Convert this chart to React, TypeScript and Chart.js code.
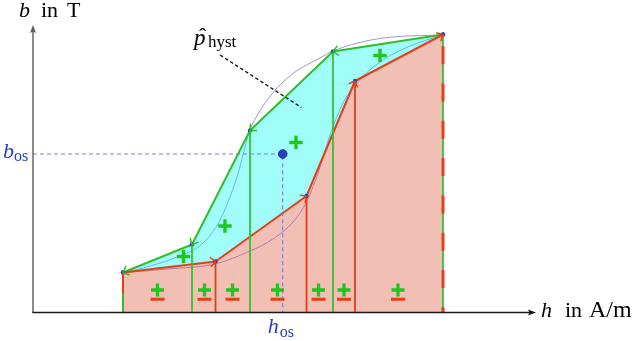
import React, { useEffect, useRef } from 'react';
import { Chart, registerables } from 'chart.js';

Chart.register(...registerables);

// ---------------- data ----------------
// piecewise-linear hysteresis approximation (upper / descending branch, lower / ascending branch)
const upperH = [18, 31.8, 43.4, 60, 82];
const upperB = [8, 13.6, 36.4, 52.2, 55.6];
const lowerH = [18, 36.5, 54.7, 64.4, 82];
const lowerB = [8, 10.2, 23.3, 46.3, 55.6];
// smooth reference hysteresis curves
const upperCurveH = [17.94, 22, 28.8, 34, 37.4, 40.8, 43.4, 45, 47, 49.4, 52.4, 57.4, 60, 70, 82];
const upperCurveB = [7.96, 8.9, 11.1, 13.9, 18.5, 27.1, 36.5, 39.7, 42.7, 45.5, 48.1, 50.9, 52.3, 54.9, 55.5];
const lowerCurveH = [17.94, 26.8, 36.4, 43.4, 48, 52, 54.6, 57, 59.4, 62, 64.6, 69.4, 75.4, 82];
const lowerCurveB = [7.96, 8.7, 9.7, 12.3, 14.7, 18.1, 21.9, 27.9, 35.5, 41.9, 45.7, 50.1, 53.3, 55.5];
// operating point (h_os, b_os)
const osH = [49.94];
const osB = [31.7];
// "+" markers inside the hysteresis area
const plusH = [30.1, 38.4, 52.6, 69.4];
const plusB = [11.2, 17.3, 34.0, 51.4];
// "±" markers below the ascending branch
const pmH = [24.9, 34.3, 39.9, 48.9, 57.1, 62.2, 73];
const pmPlusB = [4.5];
const pmMinusB = [2.64];
// colour split of the first vertical
const startSplitB = [3.7];
// leader line of the p_hyst label
const leaderH = [37.4, 53.7];
const leaderB = [51.5, 41.0];
// axis extents
const axisEndH = [100.6];
const axisEndB = [57.5];

// ---------------- styles ----------------
const GREEN = '#2fbf2a';
const PLUSGREEN = '#22c422';
const RED = '#e2401a';
const BLUE = '#2b3fc4';
const CURVE = 'rgb(140,140,215)';
const GUIDE = 'rgba(105,115,225,0.9)';
const CYAN = 'rgba(0,250,240,0.37)';
const SALMON = 'rgba(220,90,60,0.39)';
const FONT = '"Liberation Serif", "DejaVu Serif", serif';

const pts = (hs: number[], bs: number[]) => hs.map((h, i) => ({ x: h, y: bs[i] }));
const seg = (data: any[], color: string, width: number, extra: any = {}) => ({
  data,
  borderColor: color,
  borderWidth: width,
  pointRadius: 0,
  fill: false,
  borderCapStyle: 'butt',
  ...extra,
});

function buildDatasets() {
  const ds: any[] = [];
  ds.push({
    data: pts(osH, osB), showLine: false, pointRadius: 4.3,
    pointBackgroundColor: BLUE, pointBorderColor: '#1f2d9e', pointBorderWidth: 1,
  });
  ds.push({
    data: pts(plusH, plusB), showLine: false, pointStyle: 'cross', pointRadius: 6.7,
    pointBorderWidth: 3.4, pointBorderColor: PLUSGREEN,
  });
  ds.push({
    data: pmH.map((h) => ({ x: h, y: pmPlusB[0] })), showLine: false, pointStyle: 'cross',
    pointRadius: 6.5, pointBorderWidth: 3.3, pointBorderColor: PLUSGREEN,
  });
  ds.push({
    data: pmH.map((h) => ({ x: h, y: pmMinusB[0] })), showLine: false, pointStyle: 'line',
    pointRadius: 7, pointBorderWidth: 3, pointBorderColor: RED,
  });
  const n = upperH.length - 1;
  // last vertical: dashed red over green
  ds.push(seg([{ x: upperH[n], y: upperB[n] }, { x: upperH[n], y: 0 }], RED, 3, {
    borderDash: [18, 19.3], borderDashOffset: 25.6,
  }));
  ds.push(seg([{ x: upperH[n], y: upperB[n] }, { x: upperH[n], y: 0 }], GREEN, 1.7));
  // first vertical: red then green
  ds.push(seg([{ x: upperH[0], y: upperB[0] }, { x: upperH[0], y: startSplitB[0] }], RED, 2));
  ds.push(seg([{ x: upperH[0], y: startSplitB[0] }, { x: upperH[0], y: 0 }], GREEN, 2));
  for (let i = 1; i < n; i++) {
    ds.push(seg([{ x: upperH[i], y: upperB[i] }, { x: upperH[i], y: 0 }], GREEN, 1.7));
  }
  for (let i = 1; i < lowerH.length - 1; i++) {
    ds.push(seg([{ x: lowerH[i], y: lowerB[i] }, { x: lowerH[i], y: 0 }], RED, 1.8));
  }
  ds.push(seg(pts(leaderH, leaderB), '#111', 1.3, { borderDash: [3.5, 2.5] }));
  ds.push(seg([{ x: 0, y: osB[0] }, { x: osH[0], y: osB[0] }, { x: osH[0], y: 0 }], GUIDE, 1.1, {
    borderDash: [4, 3],
  }));
  const redIdx = ds.length;
  ds.push({
    data: pts(lowerH, lowerB), borderColor: RED, borderWidth: 2, borderJoinStyle: 'round',
    fill: 'origin', backgroundColor: SALMON,
    pointRadius: 2.2, pointBackgroundColor: BLUE, pointBorderWidth: 0,
  });
  ds.push({
    data: pts(upperH, upperB), borderColor: GREEN, borderWidth: 2, borderJoinStyle: 'round',
    fill: redIdx, backgroundColor: CYAN,
    pointRadius: 2.2, pointBackgroundColor: BLUE, pointBorderWidth: 0,
  });
  ds.push(seg(pts(upperCurveH, upperCurveB), CURVE, 0.9, { cubicInterpolationMode: 'monotone' }));
  ds.push(seg(pts(lowerCurveH, lowerCurveB), CURVE, 0.9, { cubicInterpolationMode: 'monotone' }));
  return ds;
}

const decor = {
  id: 'decor',
  afterDatasetsDraw(chart: any) {
    const { ctx, scales } = chart;
    const X = (v: number) => scales.x.getPixelForValue(v);
    const Y = (v: number) => scales.y.getPixelForValue(v);
    ctx.save();
    const barbs = (h0: number, b0: number, h1: number, b1: number, color: string) => {
      const x1 = X(h1), y1 = Y(b1);
      const ang = Math.atan2(Y(b0) - y1, X(h0) - x1);
      ctx.strokeStyle = color;
      ctx.lineWidth = 1.5;
      ctx.beginPath();
      for (const s of [-1, 1]) {
        const a = ang + s * 0.75;
        ctx.moveTo(x1, y1);
        ctx.lineTo(x1 + 7 * Math.cos(a), y1 + 7 * Math.sin(a));
      }
      ctx.stroke();
    };
    for (let i = upperH.length - 1; i > 0; i--) barbs(upperH[i], upperB[i], upperH[i - 1], upperB[i - 1], GREEN);
    for (let i = 0; i < lowerH.length - 1; i++) barbs(lowerH[i], lowerB[i], lowerH[i + 1], lowerB[i + 1], RED);

    // axes
    const x0 = X(0), y0 = Y(0);
    const xe = X(axisEndH[0]), ye = Y(axisEndB[0]);
    ctx.lineWidth = 1.4;
    ctx.strokeStyle = '#5a5a5a';
    ctx.beginPath(); ctx.moveTo(x0, y0); ctx.lineTo(x0, ye + 4); ctx.stroke();
    ctx.fillStyle = '#5a5a5a';
    ctx.beginPath(); ctx.moveTo(x0, ye); ctx.lineTo(x0 - 3, ye + 8); ctx.lineTo(x0, ye + 6.5); ctx.lineTo(x0 + 3, ye + 8); ctx.closePath(); ctx.fill();
    ctx.strokeStyle = '#1a1a1a';
    ctx.beginPath(); ctx.moveTo(x0 - 0.7, y0); ctx.lineTo(xe - 4, y0); ctx.stroke();
    ctx.fillStyle = '#1a1a1a';
    ctx.beginPath(); ctx.moveTo(xe, y0); ctx.lineTo(xe - 8, y0 - 3); ctx.lineTo(xe - 6.5, y0); ctx.lineTo(xe - 8, y0 + 3); ctx.closePath(); ctx.fill();
    ctx.restore();
  },
  afterDraw(chart: any) {
    const { ctx, scales } = chart;
    const X = (v: number) => scales.x.getPixelForValue(v);
    const Y = (v: number) => scales.y.getPixelForValue(v);
    ctx.save();
    ctx.textAlign = 'left';
    ctx.textBaseline = 'alphabetic';
    const t = (s: string, px: number, py: number, size: number, italic: boolean, color: string) => {
      ctx.font = `${italic ? 'italic ' : ''}${size}px ${FONT}`;
      ctx.fillStyle = color;
      ctx.fillText(s, px, py);
    };
    // axis titles
    t('b', 19, 17, 22, true, '#000');
    t('in', 41, 17, 22, false, '#000');
    t('T', 67, 17, 22, false, '#000');
    t('h', 541, 317, 22, true, '#000');
    t('in', 565, 317, 22, false, '#000');
    t('A/m', 589, 317, 24, false, '#000');
    // operating point labels
    const yo = Y(osB[0]);
    t('b', 3, yo + 3.5, 22, true, BLUE);
    t('os', 14, yo + 7, 16, false, BLUE);
    const xo = X(osH[0]);
    t('h', xo - 15, 333, 22, true, BLUE);
    t('os', xo - 3, 337, 16, false, BLUE);
    // p_hyst label
    t('p', 194, 45, 23, true, '#000');
    t('ˆ', 199, 43, 22, false, '#000');
    t('hyst', 208, 47, 17, false, '#000');
    ctx.restore();
  },
};

export default function App() {
  const ref = useRef<HTMLCanvasElement | null>(null);
  useEffect(() => {
    if (!ref.current) return;
    const chart = new Chart(ref.current, {
      type: 'line',
      data: { datasets: buildDatasets() },
      options: {
        responsive: false,
        maintainAspectRatio: false,
        animation: false,
        layout: { padding: { left: 33, right: 107, top: 12.5, bottom: 28.5 } },
        scales: {
          x: { type: 'linear', min: 0, max: 100, display: false },
          y: { type: 'linear', min: 0, max: 60, display: false },
        },
        elements: { line: { tension: 0 } },
        plugins: {
          legend: { display: false },
          tooltip: { enabled: false },
          filler: { drawTime: 'beforeDatasetDraw', propagate: false },
        },
        events: [],
      } as any,
      plugins: [decor],
    });
    return () => chart.destroy();
  }, []);
  return (
    <div style={{ position: 'fixed', left: 0, top: 0, width: 640, height: 341, background: '#fff' }}>
      <canvas ref={ref} width={640} height={341} style={{ display: 'block', width: 640, height: 341 }} />
    </div>
  );
}
